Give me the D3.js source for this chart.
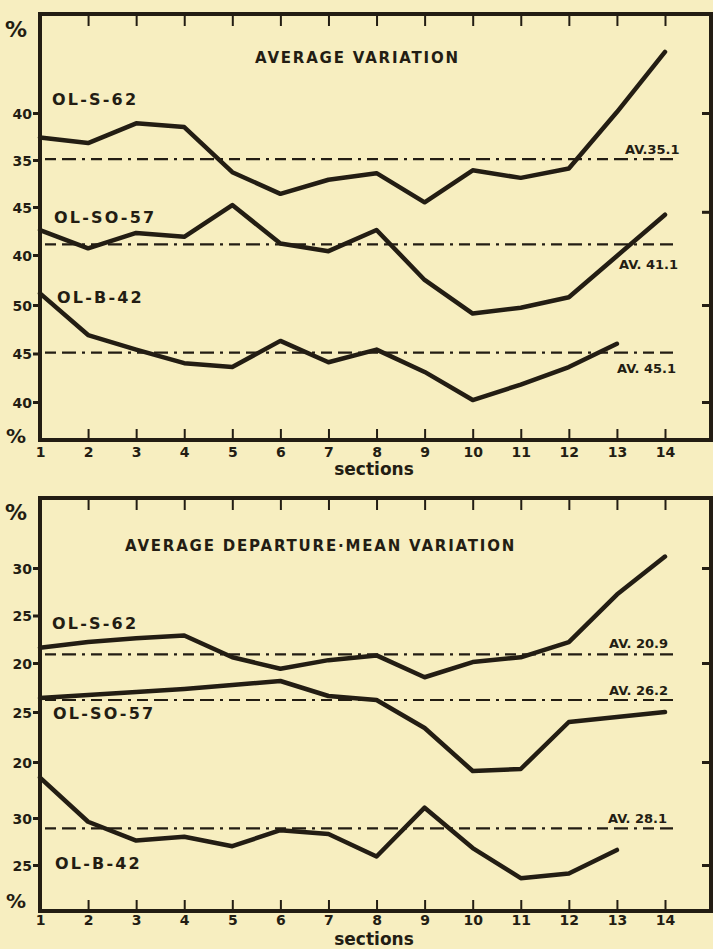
<!DOCTYPE html>
<html><head><meta charset="utf-8">
<script src="https://cdnjs.cloudflare.com/ajax/libs/d3/7.8.5/d3.min.js"></script>
<style>
html,body{margin:0;padding:0;background:#f7eec0;}
svg{display:block;}
text{font-family:"DejaVu Sans",sans-serif;font-weight:bold;fill:#231d13;}
</style></head><body>
<script>
// ---------- data ----------
const sections = [1,2,3,4,5,6,7,8,9,10,11,12,13,14];
const xTickLabels = ["1","2","3","4","5","6","7","8","9","10","11","12","13","14"];
const seriesNames = ["OL-S-62","OL-SO-57","OL-B-42"];
const topTitle = "AVERAGE VARIATION";
const bottomTitle = "AVERAGE DEPARTURE\u00B7MEAN VARIATION";
const axisLabel = "sections";

const topS62  = [37.4, 36.8, 38.9, 38.5, 33.7, 31.4, 32.9, 33.6, 30.5, 33.9, 33.1, 34.1, 40.1, 46.5];
const topSO57 = [42.6, 40.7, 42.3, 41.9, 45.2, 41.2, 40.4, 42.6, 37.4, 33.9, 34.5, 35.6, 39.9, 44.2];
const topB42  = [51.2, 46.9, 45.4, 44.0, 43.6, 46.3, 44.1, 45.4, 43.1, 40.2, 41.8, 43.6, 46.0];
const topAvg = [35.1, 41.1, 45.1];
const topAvgLabels = ["AV.35.1", "AV. 41.1", "AV. 45.1"];
const topTicks = [[40, 35], [45, 40], [50, 45, 40]];
const topRightTicks = [[40], [44.5], [50, 40]];

const botS62  = [21.6, 22.2, 22.6, 22.9, 20.6, 19.4, 20.3, 20.8, 18.5, 20.1, 20.6, 22.2, 27.2, 31.2];
const botSO57 = [26.4, 26.7, 27.0, 27.3, 27.7, 28.1, 26.6, 26.2, 23.4, 19.1, 19.3, 24.0, 24.5, 25.0];
const botB42  = [34.3, 29.6, 27.6, 28.0, 27.0, 28.7, 28.3, 25.9, 31.1, 26.8, 23.6, 24.1, 26.6];
const botAvg = [20.9, 26.2, 28.9];
const botAvgLabels = ["AV. 20.9", "AV. 26.2", "AV. 28.1"];
const botTicks = [[30, 25, 20], [25, 20], [30, 25]];
const botRightTicks = [[30, 20], [20], [25]];

// ---------- layout ----------
const W = 713, H = 949;
const ink = "#231d13";
const left = 40, right = 711;
const x = d3.scaleLinear().domain([1, 14]).range([40, 665]);

const panels = [
  { top: 14, bottom: 440, title: topTitle, titleX: 255, titleY: 63,
    data: [topS62, topSO57, topB42], avg: topAvg, avgLabels: topAvgLabels,
    ticks: topTicks, rticks: topRightTicks,
    scales: [
      d3.scaleLinear().domain([40, 35]).range([113, 160]),
      d3.scaleLinear().domain([45, 40]).range([207, 255]),
      d3.scaleLinear().domain([50, 40]).range([305, 402])
    ],
    names: [[52, 105], [54, 223], [57, 303]],
    avgLab: [[625, -5], [619, 25], [617, 20]],
    pctTop: 37, pctBot: 443, xLabY: 457, secY: 475 },
  { top: 498, bottom: 911, title: bottomTitle, titleX: 125, titleY: 551,
    data: [botS62, botSO57, botB42], avg: botAvg, avgLabels: botAvgLabels,
    ticks: botTicks, rticks: botRightTicks,
    scales: [
      d3.scaleLinear().domain([30, 20]).range([568, 663]),
      d3.scaleLinear().domain([25, 20]).range([712, 762]),
      d3.scaleLinear().domain([30, 25]).range([818, 865])
    ],
    names: [[52, 629], [53, 719], [55, 869]],
    avgLab: [[609, -6], [609, -5], [608, -5]],
    pctTop: 520, pctBot: 908, xLabY: 925, secY: 945 }
];

const svg = d3.select("body").append("svg").attr("width", W).attr("height", H);
svg.append("rect").attr("width", W).attr("height", H).attr("fill", "#f7eec0");

panels.forEach(p => {
  const g = svg.append("g");
  // frame
  g.append("rect").attr("x", left).attr("y", p.top)
    .attr("width", right - left).attr("height", p.bottom - p.top)
    .attr("fill", "none").attr("stroke", ink).attr("stroke-width", 4);

  // bottom axis (ticks inward) with labels
  const xb = d3.axisBottom(x).tickValues(sections).tickSize(0)
    .tickFormat((d, i) => xTickLabels[i]);
  const ax = g.append("g").attr("transform", `translate(0,${p.bottom})`).call(xb);
  ax.select(".domain").remove();
  ax.selectAll("text").attr("y", p.xLabY - p.bottom).attr("dy", 0)
    .style("font-size", "14px").style("font-family", "DejaVu Sans").style("font-weight", "bold").attr("fill", ink);
  ax.selectAll(".tick").filter(d => d > 1).append("line")
    .attr("y1", 0).attr("y2", -11).attr("stroke", ink).attr("stroke-width", 2);
  // top axis ticks inward
  const xt = d3.axisTop(x).tickValues(sections.filter(d => d > 1)).tickSize(-12).tickFormat("");
  const at = g.append("g").attr("transform", `translate(0,${p.top})`).call(xt);
  at.select(".domain").remove();
  at.selectAll("line").attr("stroke", ink).attr("stroke-width", 2);

  g.append("text").attr("x", 374).attr("y", p.secY).attr("text-anchor", "middle")
    .style("font-size", "17px").text(axisLabel);

  // % marks
  g.append("text").attr("x", 5).attr("y", p.pctTop).style("font-size", "22px").text("%");
  g.append("text").attr("x", 6).attr("y", p.pctBot).style("font-size", "20px").text("%");

  // title
  g.append("text").attr("x", p.titleX).attr("y", p.titleY)
    .style("font-size", "15px").style("letter-spacing", "1.8px").text(p.title);

  p.data.forEach((vals, s) => {
    const ys = p.scales[s];
    // left axis ticks
    const la = d3.axisLeft(ys).tickValues(p.ticks[s]).tickSize(6).tickPadding(1)
      .tickFormat(d3.format("d"));
    const lg = g.append("g").attr("transform", `translate(${left - 1},0)`).call(la);
    lg.select(".domain").remove();
    lg.selectAll("line").attr("stroke", ink).attr("stroke-width", 3);
    lg.selectAll("text").style("font-size", "14px").style("font-family", "DejaVu Sans")
      .style("font-weight", "bold").attr("fill", ink).attr("dy", "0.36em");
    // right axis ticks inward
    const ra = d3.axisRight(ys).tickValues(p.rticks[s]).tickSize(-9).tickFormat("");
    const rg = g.append("g").attr("transform", `translate(${right},0)`).call(ra);
    rg.select(".domain").remove();
    rg.selectAll("line").attr("stroke", ink).attr("stroke-width", 3);

    // average line
    const ya = ys(p.avg[s]);
    g.append("line").attr("x1", x(1) + 5).attr("x2", x(14) + 8)
      .attr("y1", ya).attr("y2", ya)
      .attr("stroke", ink).attr("stroke-width", 2.2)
      .attr("stroke-dasharray", "11,6,14,6,3,6");
    g.append("text").attr("x", p.avgLab[s][0]).attr("y", ya + p.avgLab[s][1])
      .style("font-size", "13px").text(p.avgLabels[s]);

    // series line
    const line = d3.line().x((d, i) => x(sections[i])).y(d => ys(d));
    g.append("path").datum(vals).attr("d", line)
      .attr("fill", "none").attr("stroke", ink).attr("stroke-width", 4.5)
      .attr("stroke-linejoin", "round").attr("stroke-linecap", "round");

    // name label
    g.append("text").attr("x", p.names[s][0]).attr("y", p.names[s][1])
      .style("font-size", "16px").style("letter-spacing", "2.2px").text(seriesNames[s]);
  });
});
</script>
</body></html>
